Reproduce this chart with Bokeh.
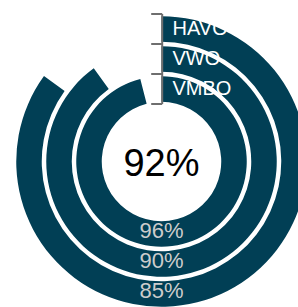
import math
from bokeh.plotting import figure
from bokeh.models import Range1d, ColumnDataSource
from bokeh.core.properties import value
from bokeh.embed import file_html
from bokeh.resources import INLINE

# ---- data ----
categories = ["VMBO", "VWO", "HAVO"]          # inner -> outer ring
values = [96, 90, 85]                          # percent
value_labels = ["96%", "90%", "85%"]
center_label = "92%"

# ---- layout (pixel-like data units, center of rings at 0,0) ----
W, H = 298, 307
cx_px, cy_px = 161, 161           # ring centre inside the plot area
band0 = 57.5                      # inner edge of first band
band_w = 30.0                     # band width
pad = 2.25                        # padding inside each band
ring_color = "#013f55"

inner_r = [band0 + i * band_w + pad for i in range(len(categories))]
outer_r = [band0 + (i + 1) * band_w - pad for i in range(len(categories))]
mid_r = [(a + b) / 2 for a, b in zip(inner_r, outer_r)]
start = [math.pi / 2] * len(values)
end = [math.pi / 2 - v / 100 * 2 * math.pi for v in values]

p = figure(width=W, height=H, output_backend="svg", toolbar_location=None,
           x_range=Range1d(-cx_px, W - cx_px), y_range=Range1d(-(H - cy_px), cy_px),
           min_border=0, outline_line_color=None)
p.axis.visible = False
p.grid.visible = False
p.background_fill_color = "white"
p.border_fill_color = "white"

n = len(categories)
src = ColumnDataSource(dict(x=[0] * n, y=[0] * n, ir=inner_r, orr=outer_r,
                            s=start, e=end, cat=categories, lab=value_labels,
                            mid=mid_r, negmid=[-m for m in mid_r],
                            lx=[11] * n, vx=[0] * n))

p.annular_wedge(x="x", y="y", inner_radius="ir", outer_radius="orr",
                start_angle="s", end_angle="e", direction="clock",
                fill_color=ring_color, line_color=None, source=src)

# radial axis bracket
ticks = [band0 + i * band_w for i in range(n + 1)]
axis_x = 0.7
p.segment(x0=[axis_x], y0=[ticks[0]], x1=[axis_x], y1=[ticks[-1]],
          line_color="#6e6e6e", line_width=2)
p.segment(x0=[axis_x - 11] * len(ticks), y0=ticks, x1=[axis_x] * len(ticks), y1=ticks,
          line_color="#6e6e6e", line_width=2)

# category labels
p.text(x="lx", y="mid", text="cat", source=src, y_offset=-1.5,
       text_font=value("Liberation Sans"), text_font_size="20px",
       text_color="white", text_align="left", text_baseline="middle")

# value labels
p.text(x="vx", y="negmid", text="lab", source=src, y_offset=-3.5,
       text_font=value("Liberation Sans"), text_font_size="22px",
       text_color="#cccccc", text_align="center", text_baseline="middle")

# centre label
p.text(x=[0], y=[-1.5], text=[center_label],
       text_font=value("Liberation Sans"), text_font_size="38px",
       text_color="black", text_align="center", text_baseline="middle")

open("out.html", "w").write(file_html(p, INLINE))
